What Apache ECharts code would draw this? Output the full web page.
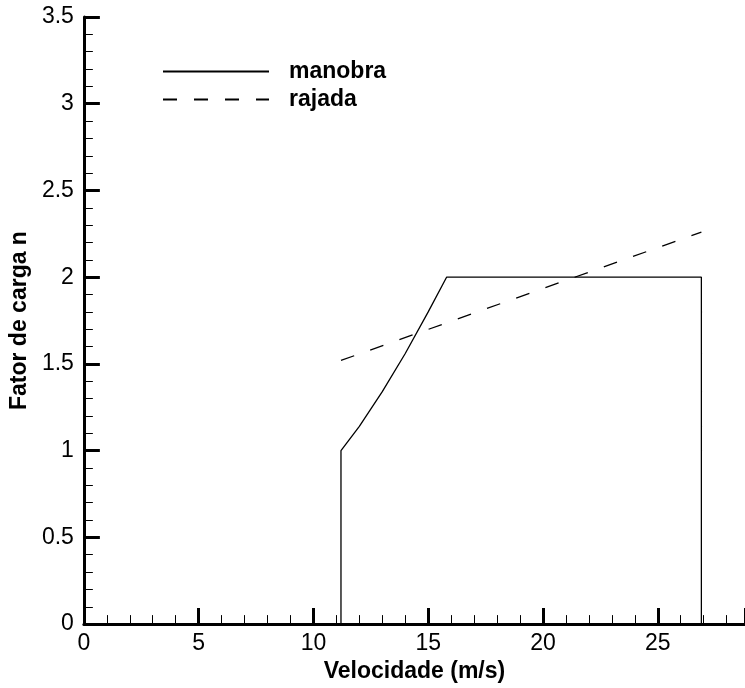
<!DOCTYPE html>
<html>
<head>
<meta charset="utf-8">
<script src="https://cdn.jsdelivr.net/npm/echarts@6/dist/echarts.min.js"></script>
<style>html,body{margin:0;padding:0;background:#fff;}#c{width:745px;height:688px;}</style>
</head>
<body>
<div id="c"></div>
<script>
// Data
var seriesNames = ['manobra', 'rajada'];
var manobraV = [11.2, 11.2, 12.0, 13.0, 14.0, 15.0, 15.8, 26.9, 26.9];
var manobraN = [0, 1.0, 1.14, 1.34, 1.56, 1.80, 2.0, 2.0, 0];
var rajadaV = [11.2, 26.9];
var rajadaN = [1.52, 2.26];
var xTitle = 'Velocidade (m/s)';
var yTitle = 'Fator de carga n';

function pairs(xs, ys) { return xs.map(function (x, i) { return [x, ys[i]]; }); }

var FONT = '"Liberation Sans", Arial, Helvetica, sans-serif';
var chart = echarts.init(document.getElementById('c'), null, {renderer: 'canvas'});
chart.setOption({
  animation: false,
  backgroundColor: '#fff',
  grid: {left: 82, right: 0, top: 17, bottom: 63, containLabel: false},
  legend: {
    orient: 'vertical', left: 162, top: 60, padding: 0,
    itemWidth: 106, itemHeight: 10, itemGap: 5,
    data: seriesNames,
    itemStyle: {opacity: 0},
    textStyle: {fontFamily: FONT, fontWeight: 'bold', fontSize: 23, color: '#000', lineHeight: 23, padding: [0, 0, 0, 15]}
  },
  xAxis: {
    type: 'value', min: 0, max: 28.8, interval: 5,
    name: xTitle, nameLocation: 'middle', nameGap: 33,
    nameTextStyle: {fontFamily: FONT, fontWeight: 'bold', fontSize: 23, color: '#000'},
    axisLine: {show: true, onZero: false, lineStyle: {color: '#000', width: 3}},
    axisTick: {show: true, inside: true, length: 16, lineStyle: {color: '#000', width: 3}},
    minorTick: {show: true, splitNumber: 5, length: 9, lineStyle: {color: '#000', width: 1}},
    axisLabel: {fontFamily: FONT, fontSize: 23, color: '#000', margin: 8, showMaxLabel: false},
    splitLine: {show: false}
  },
  yAxis: {
    type: 'value', min: 0, max: 3.5, interval: 0.5,
    name: yTitle, nameLocation: 'middle', nameGap: 48, nameRotate: 90,
    nameTextStyle: {fontFamily: FONT, fontWeight: 'bold', fontSize: 23, color: '#000'},
    axisLine: {show: true, onZero: false, lineStyle: {color: '#000', width: 3}},
    axisTick: {show: true, inside: true, length: 16, lineStyle: {color: '#000', width: 3}},
    minorTick: {show: true, splitNumber: 5, length: 9, lineStyle: {color: '#000', width: 1}},
    axisLabel: {fontFamily: FONT, fontSize: 23, color: '#000', margin: 10},
    splitLine: {show: false}
  },
  series: [
    {
      name: seriesNames[0], type: 'line', symbol: 'none', smooth: false,
      data: pairs(manobraV, manobraN),
      lineStyle: {color: '#000', width: 1.3, type: 'solid'},
      itemStyle: {color: '#000'}
    },
    {
      name: seriesNames[1], type: 'line', symbol: 'none', smooth: false,
      data: pairs(rajadaV, rajadaN),
      lineStyle: {color: '#000', width: 1.3, type: [14, 17]},
      itemStyle: {color: '#000'}
    }
  ]
});
</script>
</body>
</html>
